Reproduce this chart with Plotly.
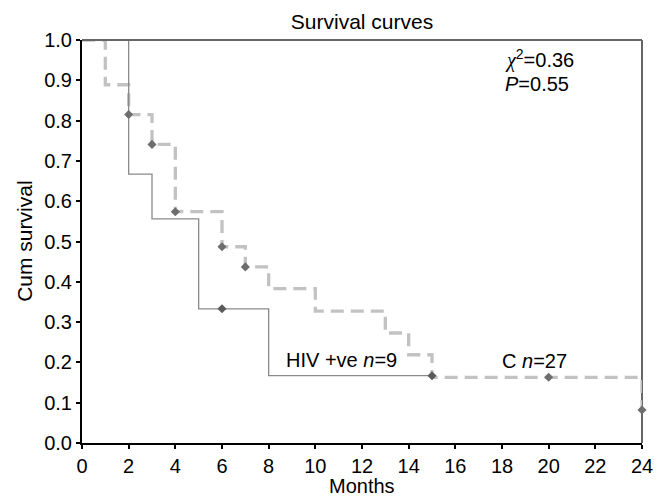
import plotly.graph_objects as go

# Kaplan-Meier step data
c_months = [0, 1, 2, 3, 4, 6, 7, 8, 10, 13, 14, 15, 24]
c_surv = [1.0, 0.889, 0.815, 0.741, 0.574, 0.487, 0.437, 0.383, 0.327, 0.273, 0.219, 0.163, 0.082]
c_cens_months = [2, 3, 4, 6, 7, 20, 24]
c_cens_surv = [0.815, 0.741, 0.574, 0.487, 0.437, 0.163, 0.082]

hiv_months = [0, 2, 3, 5, 8, 15]
hiv_surv = [1.0, 0.667, 0.556, 0.333, 0.167, 0.167]
hiv_cens_months = [6, 15]
hiv_cens_surv = [0.333, 0.167]

x_ticks = list(range(0, 25, 2))
y_ticks = [i / 10 for i in range(11)]

FONT = "Liberation Sans, Arial, sans-serif"
W, H = 659, 488  # page body has an 8px margin

fig = go.Figure()
fig.add_trace(go.Scatter(x=c_months, y=c_surv, mode="lines", line_shape="hv",
                         line=dict(color="#c2c2c2", width=3.3, dash="13px,7px"),
                         showlegend=False, cliponaxis=False))
fig.add_trace(go.Scatter(x=hiv_months, y=hiv_surv, mode="lines", line_shape="hv",
                         line=dict(color="#8a8a8a", width=1.3),
                         showlegend=False, cliponaxis=False))
fig.add_trace(go.Scatter(x=c_cens_months, y=c_cens_surv, mode="markers",
                         marker=dict(symbol="diamond", size=7, color="#6e6e6e"),
                         showlegend=False, cliponaxis=False))
fig.add_trace(go.Scatter(x=hiv_cens_months, y=hiv_cens_surv, mode="markers",
                         marker=dict(symbol="diamond", size=7, color="#5a5a5a"),
                         showlegend=False, cliponaxis=False))

fig.update_layout(
    width=W, height=H,
    margin=dict(l=73.7, r=25.3, t=32, b=53.3, autoexpand=False),
    paper_bgcolor="white", plot_bgcolor="white",
    font=dict(family=FONT, size=20, color="black"),
    title=dict(text="Survival curves", x=0.5, xref="paper", y=1 - 14 / H,
               yref="container", xanchor="center", yanchor="middle",
               font=dict(size=21, family=FONT, color="black")),
    xaxis=dict(range=[0, 24], tickvals=x_ticks, ticktext=[str(v) for v in x_ticks],
               showline=True, linecolor="black", linewidth=2, ticks="outside",
               ticklen=4, tickcolor="black", tickwidth=1.5, showgrid=False,
               zeroline=False, tickfont=dict(size=20)),
    yaxis=dict(range=[0, 1], tickvals=y_ticks, ticktext=[f"{v:.1f}" for v in y_ticks],
               showline=True, linecolor="black", linewidth=2, ticks="outside",
               ticklen=4, tickcolor="black", tickwidth=1.5, showgrid=False,
               zeroline=False, tickfont=dict(size=20)),
    shapes=[
        dict(type="line", xref="paper", yref="paper", x0=0, x1=1, y0=1, y1=1,
             line=dict(color="#666666", width=2), layer="above"),
        dict(type="line", xref="paper", yref="paper", x0=1, x1=1, y0=0, y1=1,
             line=dict(color="black", width=1.2), layer="below"),
    ],
    annotations=[
        dict(text="Months", xref="paper", yref="paper", x=0.5, y=-42.5 / 402.7,
             xanchor="center", yanchor="middle", showarrow=False,
             font=dict(size=20)),
        dict(text="Cum survival", xref="paper", yref="paper", x=-57.7 / 560, y=0.5,
             textangle=-90, xanchor="center", yanchor="middle", showarrow=False,
             font=dict(size=21)),
        dict(text="<span style='font-family:Liberation Serif'><i>χ</i></span><sup>2</sup>=0.36",
             x=18.05, y=0.953, xref="x", yref="y", xanchor="left", yanchor="middle",
             showarrow=False, font=dict(size=20)),
        dict(text="<i>P</i>=0.55", x=18.05, y=0.891, xref="x", yref="y",
             xanchor="left", yanchor="middle", showarrow=False, font=dict(size=20)),
        dict(text="HIV +ve <i>n</i>=9", x=8.67, y=0.205, xref="x", yref="y",
             xanchor="left", yanchor="middle", showarrow=False, font=dict(size=20)),
        dict(text="C <i>n</i>=27", x=17.93, y=0.203, xref="x", yref="y",
             xanchor="left", yanchor="middle", showarrow=False, font=dict(size=20)),
    ],
)

fig.write_html("out.html")
